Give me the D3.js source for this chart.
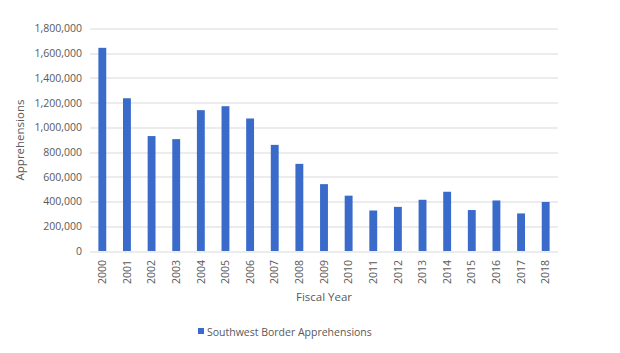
<!DOCTYPE html>
<html>
<head>
<meta charset="utf-8">
<script src="https://cdn.jsdelivr.net/npm/d3@7"></script>
<style>
  body { margin: 0; background: #fff; }
  text { font-family: "Open Sans", "Liberation Sans", sans-serif; fill: #595959; }
</style>
</head>
<body>
<div id="chart"></div>
<script>
const years = ["2000", "2001", "2002", "2003", "2004", "2005", "2006", "2007", "2008", "2009",
  "2010", "2011", "2012", "2013", "2014", "2015", "2016", "2017", "2018"];
const apprehensions = [1643679, 1235718, 929809, 905065, 1139282, 1171396, 1071972, 858638, 705005, 540865,
  447731, 327577, 356873, 414397, 479371, 331333, 408870, 303916, 396579];
const yTicks = [0, 200000, 400000, 600000, 800000, 1000000, 1200000, 1400000, 1600000, 1800000];
const seriesName = "Southwest Border Apprehensions";

const data = years.map((y, i) => ({ year: y, value: apprehensions[i] }));

const margin = { top: 28.5, right: 62, bottom: 102, left: 90 };
const width = 620 - margin.left - margin.right;
const height = 353 - margin.top - margin.bottom;

const svg = d3.select("#chart").append("svg")
    .attr("width", 620)
    .attr("height", 353);

const g = svg.append("g")
    .attr("transform", `translate(${margin.left},${margin.top})`);

const x = d3.scaleBand()
    .domain(years)
    .range([0, width])
    .paddingInner(0.68)
    .paddingOuter(0.34);

const y = d3.scaleLinear()
    .domain([0, 1800000])
    .range([height, 0]);

// gridlines
g.append("g")
    .selectAll("line")
    .data(yTicks)
    .enter()
    .append("line")
    .attr("x1", 0)
    .attr("x2", width)
    .attr("y1", d => Math.round(y(d)) + 0.5)
    .attr("y2", d => Math.round(y(d)) + 0.5)
    .attr("stroke", "#d9d9d9")
    .attr("stroke-width", 1);

// y axis labels
g.append("g")
    .call(d3.axisLeft(y).tickValues(yTicks).tickFormat(d3.format(",")).tickSize(0).tickPadding(8))
    .call(a => a.select(".domain").remove())
    .selectAll("text")
    .style("font-size", "10.5px")
    .attr("fill", "#595959");

// bars
g.selectAll(".bar")
    .data(data)
    .enter()
    .append("rect")
    .attr("class", "bar")
    .attr("x", d => x(d.year))
    .attr("y", d => y(d.value))
    .attr("width", x.bandwidth())
    .attr("height", d => height - y(d.value))
    .attr("fill", "#3a6bca");

// x axis labels
g.append("g")
    .attr("transform", `translate(0, ${height})`)
    .call(d3.axisBottom(x).tickSize(0))
    .call(a => a.select(".domain").remove())
    .selectAll("text")
    .style("font-size", "10.5px")
    .attr("fill", "#595959")
    .attr("transform", "rotate(-90)")
    .attr("dy", "0.35em")
    .attr("x", -9)
    .attr("y", 0)
    .style("text-anchor", "end");

// axis titles
svg.append("text")
    .attr("transform", "rotate(-90)")
    .attr("x", -140)
    .attr("y", 24)
    .attr("text-anchor", "middle")
    .style("font-size", "11.5px")
    .text("Apprehensions");

svg.append("text")
    .attr("x", margin.left + width / 2)
    .attr("y", 301)
    .attr("text-anchor", "middle")
    .style("font-size", "11.5px")
    .text("Fiscal Year");

// legend
const legend = svg.append("g")
    .attr("transform", "translate(198, 332)");

legend.append("rect")
    .attr("x", 0)
    .attr("y", -4)
    .attr("width", 6)
    .attr("height", 6)
    .attr("fill", "#3a6bca");

legend.append("text")
    .attr("x", 9)
    .attr("y", 0)
    .attr("dy", "0.35em")
    .style("font-size", "10.5px")
    .text(seriesName);
</script>
</body>
</html>
